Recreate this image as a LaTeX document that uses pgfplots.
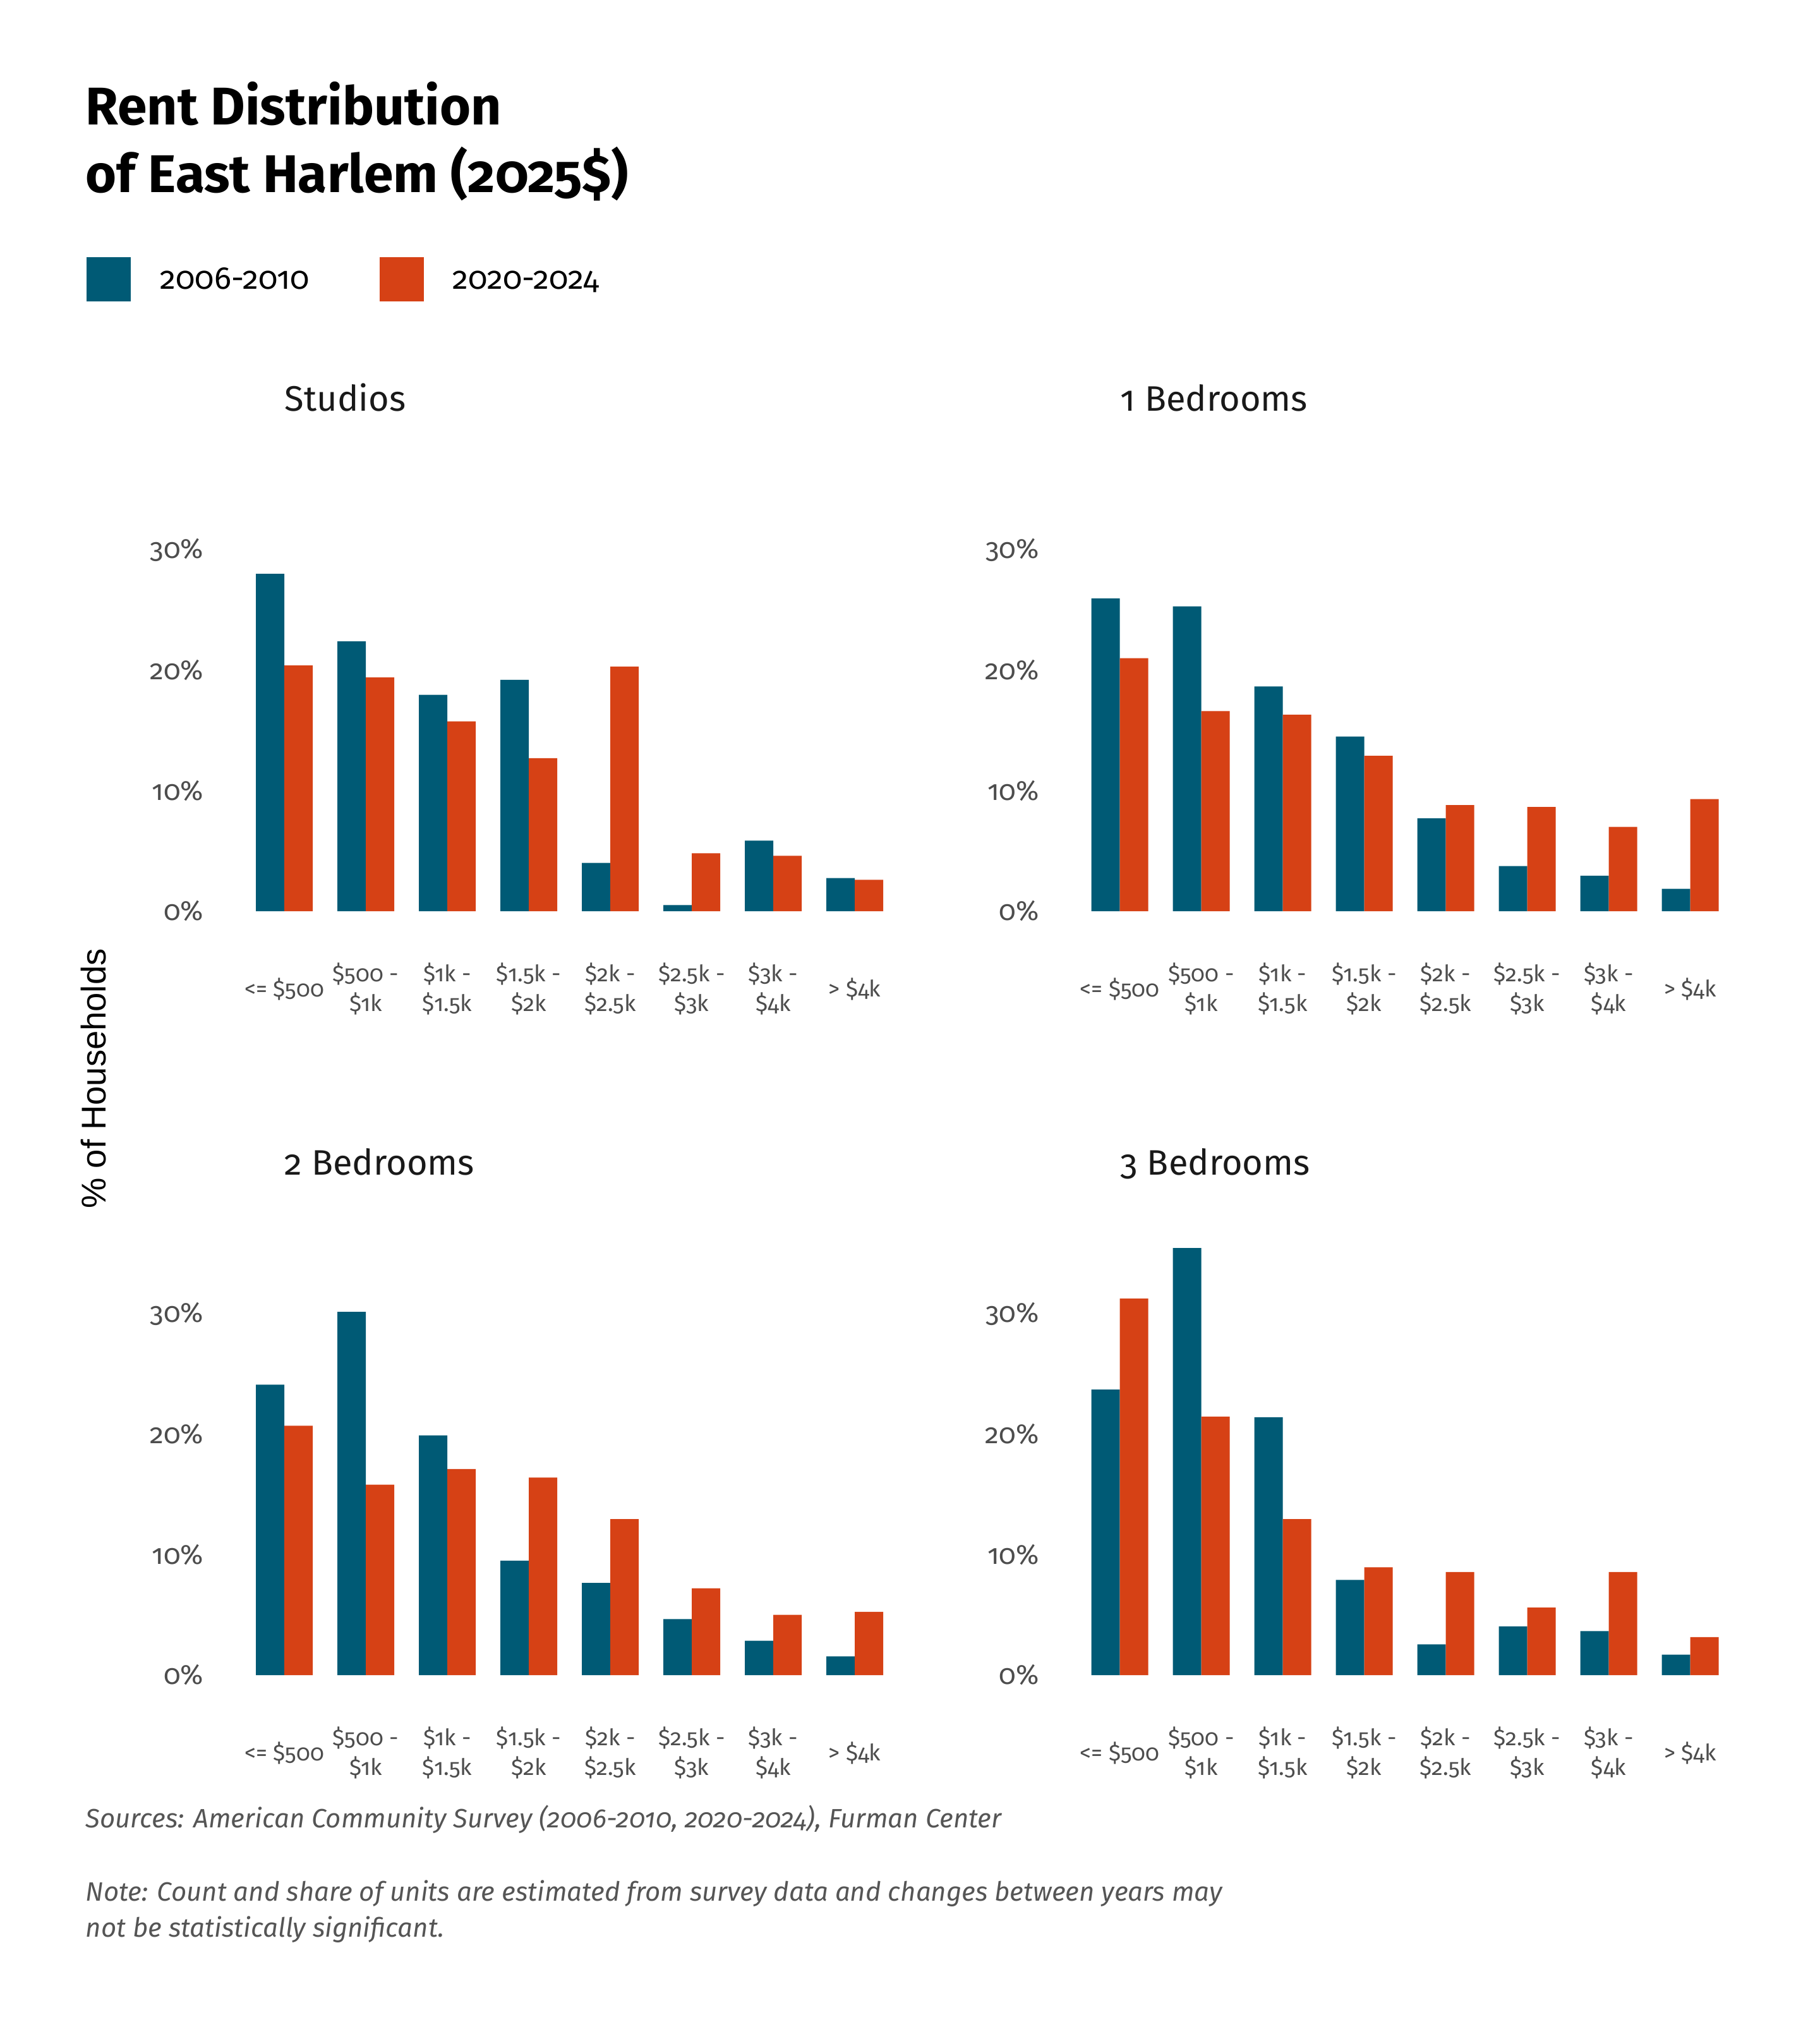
\documentclass[border=0pt]{standalone}
\usepackage{pgfplots}
\pgfplotsset{compat=1.18}
\usepackage{pgfplotstable}
\usepackage{fontspec}
\setmainfont{Fira Sans}[Numbers=OldStyle]
\newfontfamily\arialfont{Liberation Sans}
\definecolor{cA}{HTML}{005A75}
\definecolor{cB}{HTML}{D64115}
\definecolor{tickc}{HTML}{4D4D4D}
\definecolor{notec}{HTML}{555555}

\pgfplotstableread{
x a b
0 28.0 20.4
1 22.4 19.4
2 17.95 15.75
3 19.2 12.7
4 4.0 20.3
5 0.5 4.8
6 5.85 4.6
7 2.75 2.6
}\studios
\pgfplotstableread{
x a b
0 25.95 21.0
1 25.3 16.6
2 18.65 16.3
3 14.5 12.9
4 7.7 8.8
5 3.75 8.65
6 2.95 7.0
7 1.85 9.3
}\oneBR
\pgfplotstableread{
x a b
0 24.1 20.7
1 30.15 15.8
2 19.9 17.1
3 9.5 16.4
4 7.65 12.95
5 4.65 7.2
6 2.85 5.0
7 1.55 5.25
}\twoBR
\pgfplotstableread{
x a b
0 23.7 31.25
1 35.45 21.45
2 21.4 12.95
3 7.9 8.95
4 2.55 8.55
5 4.05 5.6
6 3.65 8.55
7 1.7 3.15
}\threeBR

\pgfplotsset{panel/.style={
  scale only axis, width=258pt, height=171.625pt,
  xmin=-0.5, xmax=7.5, ymin=0, ymax=36,
  ybar=0pt, bar width=11.25pt,
  axis line style={draw=none}, major tick length=0pt,
  xtick={0,1,2,3,4,5,6,7},
  xticklabels={{<= \$500},{\$500 -\\\$1k},{\$1k -\\\$1.5k},{\$1.5k -\\\$2k},{\$2k -\\\$2.5k},{\$2.5k -\\\$3k},{\$3k -\\\$4k},{> \$4k}},
  ytick={0,10,20,30}, yticklabels={0\%,10\%,20\%,30\%},
  yticklabel style={font=\fontsize{11}{13}\selectfont, text=tickc, anchor=east, inner sep=0pt, xshift=-15.6pt},
  xticklabel style={font=\fontsize{9}{11.75}\selectfont, text=tickc, align=center, anchor=center, yshift=-30.75pt, inner sep=0pt},
  clip=false, anchor=south west,
}}

\begin{document}
\begin{tikzpicture}
\useasboundingbox (0,0) rectangle (720pt,-800pt);

% title
\node[anchor=base west, inner sep=0pt, font=\bfseries\fontsize{21}{26.5}\selectfont] at (33.75pt,-49.25pt) {Rent Distribution};
\node[anchor=base west, inner sep=0pt, font=\bfseries\fontsize{21}{26.5}\selectfont] at (33.75pt,-76pt) {of East Harlem (2025\$)};

% legend
\fill[cA] (34.25pt,-101.75pt) rectangle (51.75pt,-119.25pt);
\node[anchor=base west, inner sep=0pt, font=\fontsize{12.5}{15}\selectfont] at (63.25pt,-114.25pt) {2006-2010};
\fill[cB] (150.25pt,-101.75pt) rectangle (167.75pt,-119.25pt);
\node[anchor=base west, inner sep=0pt, font=\fontsize{12.5}{15}\selectfont] at (179pt,-114.25pt) {2020-2024};

% panel titles
\node[anchor=base west, inner sep=0pt, font=\fontsize{14}{17}\selectfont, text=black!90] at (112.5pt,-162.5pt) {Studios};
\node[anchor=base west, inner sep=0pt, font=\fontsize{14}{17}\selectfont, text=black!90] at (443.25pt,-162.5pt) {1 Bedrooms};
\node[anchor=base west, inner sep=0pt, font=\fontsize{14}{17}\selectfont, text=black!90] at (112.5pt,-464.75pt) {2 Bedrooms};
\node[anchor=base west, inner sep=0pt, font=\fontsize{14}{17}\selectfont, text=black!90] at (443.25pt,-464.75pt) {3 Bedrooms};

% y label
\node[rotate=90, inner sep=0pt, font=\arialfont\fontsize{13.6}{15}\selectfont] at (37pt,-426.75pt) {\% of Households};

\begin{axis}[panel, at={(96.375pt,-360.5pt)}]
\addplot[fill=cA, draw=none] table[x=x,y=a]{\studios};
\addplot[fill=cB, draw=none] table[x=x,y=b]{\studios};
\end{axis}
\begin{axis}[panel, at={(427pt,-360.5pt)}]
\addplot[fill=cA, draw=none] table[x=x,y=a]{\oneBR};
\addplot[fill=cB, draw=none] table[x=x,y=b]{\oneBR};
\end{axis}
\begin{axis}[panel, at={(96.375pt,-662.75pt)}]
\addplot[fill=cA, draw=none] table[x=x,y=a]{\twoBR};
\addplot[fill=cB, draw=none] table[x=x,y=b]{\twoBR};
\end{axis}
\begin{axis}[panel, at={(427pt,-662.75pt)}]
\addplot[fill=cA, draw=none] table[x=x,y=a]{\threeBR};
\addplot[fill=cB, draw=none] table[x=x,y=b]{\threeBR};
\end{axis}

% notes
\node[anchor=base west, inner sep=0pt, font=\itshape\fontsize{10.5}{14}\selectfont, text=notec] at (33.75pt,-723pt) {Sources: American Community Survey (2006-2010, 2020-2024), Furman Center};
\node[anchor=base west, inner sep=0pt, font=\itshape\fontsize{10.5}{14}\selectfont, text=notec] at (33.75pt,-752pt) {Note: Count and share of units are estimated from survey data and changes between years may};
\node[anchor=base west, inner sep=0pt, font=\itshape\fontsize{10.5}{14}\selectfont, text=notec] at (33.75pt,-766.25pt) {not be statistically significant.};
\end{tikzpicture}
\end{document}
